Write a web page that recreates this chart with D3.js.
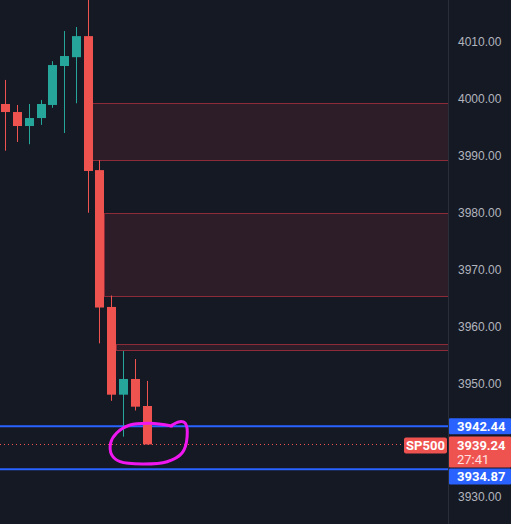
<!DOCTYPE html>
<html>
<head>
<meta charset="utf-8">
<script src="https://cdn.jsdelivr.net/npm/d3@7"></script>
<style>
  html, body { margin: 0; padding: 0; background: #151924; }
  svg { display: block; }
</style>
</head>
<body>
<div id="chart"></div>
<script>
// candles, oldest first (open, high, low, close)
var opens  = [3999.07, 3997.66, 3995.20, 3996.60, 3998.90, 4005.75, 4007.30, 4011.00, 3987.45, 3963.40, 3947.98, 3950.74, 3945.99];
var highs  = [4003.30, 3998.90, 3999.07, 3999.77, 4006.60, 4011.90, 4012.60, 4018.00, 3989.20, 3965.40, 3955.66, 3954.25, 3950.40];
var lows   = [3990.86, 3992.40, 3992.00, 3995.40, 3998.40, 3993.97, 3999.20, 3979.96, 3957.00, 3946.90, 3940.60, 3945.20, 3939.24];
var closes = [3997.66, 3995.20, 3996.60, 3999.07, 4005.92, 4007.50, 4011.00, 3987.30, 3963.30, 3947.98, 3950.74, 3945.87, 3939.24];

// supply zones: bar they start after, top and bottom price
var zoneStart  = [7, 8, 9];
var zoneTop    = [3999.2, 3979.9, 3956.8];
var zoneBottom = [3989.3, 3965.4, 3955.8];

// 3940.00 sits under the price labels, so it is left out
var tickValues = [4010, 4000, 3990, 3980, 3970, 3960, 3950, 3930];

var lastPrice = 3939.24;
var countdown = "27:41";
var symbol = "SP500";
var levels = [3942.44, 3934.87];

// hand drawn circle around the last bar, in (bar, price)
var circleBars   = [14.0, 14.84, 15.27, 15.44, 15.01, 13.74, 11.70, 9.75, 9.04, 8.95, 9.46, 10.59, 12.29, 14.14];
var circlePrices = [3942.48, 3943.24, 3943.0, 3940.54, 3937.73, 3936.2, 3935.8, 3936.2, 3937.4, 3939.5, 3941.25, 3942.65, 3942.95, 3942.48];

var w = 511;
var h = 524;
var plotW = 448;
var bodyW = 9;

var red = "#ef5350";
var green = "#26a69a";
var blue = "#2962ff";

var x = d3.scaleLinear().domain([-0.45, 37.6]).range([0, plotW]);
var y = d3.scaleLinear().domain([4017.35, 3925.25]).range([0, h]);

var svg = d3.select("#chart").append("svg")
    .attr("width", w)
    .attr("height", h)
    .attr("font-family", "Roboto, sans-serif");

svg.append("rect").attr("width", w).attr("height", h).attr("fill", "#151924");

var plot = svg.append("g");

// zones
var zones = d3.range(zoneStart.length);
plot.selectAll(".zone").data(zones).enter().append("rect")
    .attr("class", "zone")
    .attr("x", function (i) { return Math.round(x(zoneStart[i]) + bodyW / 2) + 0.5; })
    .attr("y", function (i) { return Math.round(y(zoneTop[i])) + 0.5; })
    .attr("width", function (i) { return plotW - Math.round(x(zoneStart[i]) + bodyW / 2); })
    .attr("height", function (i) { return Math.round(y(zoneBottom[i])) - Math.round(y(zoneTop[i])); })
    .attr("fill", "#2d1d28")
    .attr("stroke", "#8e2b39")
    .attr("stroke-width", 1);

// level lines
plot.selectAll(".level").data(levels).enter().append("line")
    .attr("x1", 0).attr("x2", plotW)
    .attr("y1", function (d) { return y(d); })
    .attr("y2", function (d) { return y(d); })
    .attr("stroke", blue)
    .attr("stroke-width", 2);

// last price dotted line
plot.append("line")
    .attr("x1", 0).attr("x2", plotW)
    .attr("y1", Math.round(y(lastPrice)) + 0.5)
    .attr("y2", Math.round(y(lastPrice)) + 0.5)
    .attr("stroke", red)
    .attr("stroke-width", 1)
    .attr("stroke-dasharray", "1,3");

// candles
var bars = d3.range(opens.length);
var candle = plot.selectAll(".candle").data(bars).enter().append("g")
    .attr("class", "candle");

function colorOf(i) { return closes[i] >= opens[i] ? green : red; }

candle.append("line")
    .attr("x1", function (i) { return Math.round(x(i)) + 0.5; })
    .attr("x2", function (i) { return Math.round(x(i)) + 0.5; })
    .attr("y1", function (i) { return y(highs[i]); })
    .attr("y2", function (i) { return y(lows[i]); })
    .attr("stroke", colorOf)
    .attr("stroke-width", 1);

candle.append("rect")
    .attr("x", function (i) { return Math.round(x(i)) + 0.5 - bodyW / 2; })
    .attr("y", function (i) { return y(Math.max(opens[i], closes[i])); })
    .attr("width", bodyW)
    .attr("height", function (i) { return Math.max(1, y(Math.min(opens[i], closes[i])) - y(Math.max(opens[i], closes[i]))); })
    .attr("fill", colorOf);

// annotation circle
var circleLine = d3.line()
    .x(function (i) { return x(circleBars[i]); })
    .y(function (i) { return y(circlePrices[i]); })
    .curve(d3.curveCatmullRom);
plot.append("path")
    .attr("d", circleLine(d3.range(circleBars.length)))
    .attr("fill", "none")
    .attr("stroke", "#f016f0")
    .attr("stroke-width", 3)
    .attr("stroke-linecap", "round")
    .attr("stroke-linejoin", "round");

// price scale
svg.append("line")
    .attr("x1", plotW + 0.5).attr("x2", plotW + 0.5)
    .attr("y1", 0).attr("y2", h)
    .attr("stroke", "#2a2e39");

var yAxis = d3.axisRight(y).tickValues(tickValues).tickSize(0).tickPadding(10)
    .tickFormat(d3.format(".2f"));
var axisG = svg.append("g")
    .attr("transform", "translate(" + plotW + ",0)")
    .call(yAxis);
axisG.select(".domain").remove();
axisG.selectAll("text").attr("fill", "#b2b5be").attr("font-size", "12px");

// price labels
var labW = w - plotW - 1;
var lab = svg.append("g").attr("font-size", "13px").attr("font-weight", "bold");

// upper level
lab.append("rect").attr("x", plotW + 1).attr("y", y(levels[0]) - 8).attr("width", labW).attr("height", 16).attr("fill", blue).attr("rx", 1);
lab.append("text").attr("x", plotW + 9).attr("y", y(levels[0])).attr("dy", "0.36em").attr("fill", "#fff").text(levels[0].toFixed(2));

// last price with countdown
var lpY = y(lastPrice);
lab.append("rect").attr("x", plotW + 1).attr("y", lpY - 8).attr("width", labW).attr("height", 31).attr("fill", red).attr("rx", 1);
lab.append("text").attr("x", plotW + 9).attr("y", lpY + 1).attr("dy", "0.36em").attr("fill", "#fff").text(lastPrice.toFixed(2));
lab.append("text").attr("x", plotW + 9).attr("y", lpY + 15).attr("dy", "0.36em").attr("fill", "#ffe0e0").attr("font-weight", "normal").text(countdown);

// lower level, pushed below the last price label
lab.append("rect").attr("x", plotW + 1).attr("y", lpY + 24).attr("width", labW).attr("height", 16).attr("fill", blue).attr("rx", 1);
lab.append("text").attr("x", plotW + 9).attr("y", lpY + 32).attr("dy", "0.36em").attr("fill", "#fff").text(levels[1].toFixed(2));

// symbol tag
lab.append("rect").attr("x", 404).attr("y", lpY - 7).attr("width", 43).attr("height", 16).attr("fill", red).attr("rx", 2);
lab.append("text").attr("x", 425.5).attr("y", lpY + 1).attr("dy", "0.36em").attr("text-anchor", "middle").attr("fill", "#fff").text(symbol);
</script>
</body>
</html>
